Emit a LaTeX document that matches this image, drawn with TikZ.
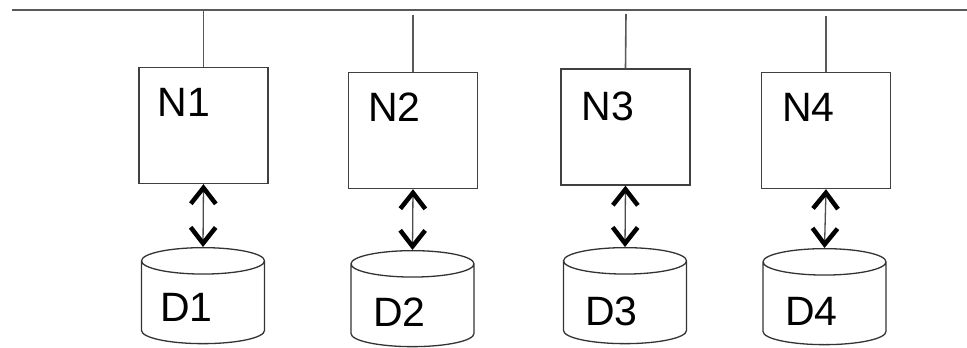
\documentclass[tikz,border=0pt]{standalone}
\usepackage{fontspec}
\setmainfont{Liberation Sans}
\usetikzlibrary{positioning,shapes.geometric,arrows.meta}
\tikzstyle{cpu}=[draw=black!75,line width=1.3pt,minimum width=129pt,minimum height=116pt,inner sep=0pt]
\tikzstyle{disk}=[draw=black!80,line width=1.3pt,cylinder,shape border rotate=90,aspect=0.22,minimum width=123pt,minimum height=96pt,inner xsep=60pt,inner ysep=0pt,anchor=north]
\tikzstyle{lbl}=[inner sep=0pt,font=\fontsize{41}{41}\selectfont]
\tikzstyle{link}=[draw=black!65,line width=1.6pt]
\tikzset{io/.style={line width=1.3pt,black!70,arrows={Straight Barb[length=16pt,width=25pt,line width=4.5pt,black]-Straight Barb[length=16pt,width=25pt,line width=4.5pt,black]}}}

\begin{document}
\begin{tikzpicture}[x=1pt,y=-1pt]
\useasboundingbox (0,0) rectangle (967,348);
% the shared bus
\coordinate (busL) at (12,10);
\coordinate (busR) at (967,10);
\draw[link,line width=2pt] (busL) -- (busR);

% nodes
\node [cpu] (n1) at (203.5,125.5) {};
\node [cpu] (n2) at (413,130.5) {};
\node [cpu] (n3) at (625.5,127) {};
\node [cpu] (n4) at (826,130.5) {};
\node [lbl, below right=21pt and 19pt of n1.north west] (t1) {N1};
\node [lbl, below right=21pt and 20pt of n2.north west] (t2) {N2};
\node [lbl, below right=23pt and 21pt of n3.north west] (t3) {N3};
\node [lbl, below right=21pt and 21pt of n4.north west] (t4) {N4};

% disks
\node [disk] (d1) at (203,247) {};
\node [disk] (d2) at (412.5,250) {};
\node [disk] (d3) at (625,247) {};
\node [disk] (d4) at (824.5,248) {};
\node [lbl, below right=46pt and -43pt of d1.north] (e1) {D1};
\node [lbl, below right=48pt and -39.5pt of d2.north] (e2) {D2};
\node [lbl, below right=50pt and -40pt of d3.north] (e3) {D3};
\node [lbl, below right=49pt and -39.5pt of d4.north] (e4) {D4};

% stems to the bus
\coordinate (s2) at (413,15);
\coordinate (s3) at (626,14);
\coordinate (s4) at (826,16);
\draw[link] (n1.north) -- (n1.north |- busL);
\draw[link] (n2.north) -- (s2);
\draw[link] (n3.north) -- (s3);
\draw[link] (n4.north) -- (s4);

% node <-> disk
\draw[io] (n1.south) -- (d1.north);
\draw[io] (n2.south) -- (d2.north);
\draw[io] (n3.south) -- (d3.north);
\draw[io] (n4.south) -- (d4.north);
\end{tikzpicture}
\end{document}
